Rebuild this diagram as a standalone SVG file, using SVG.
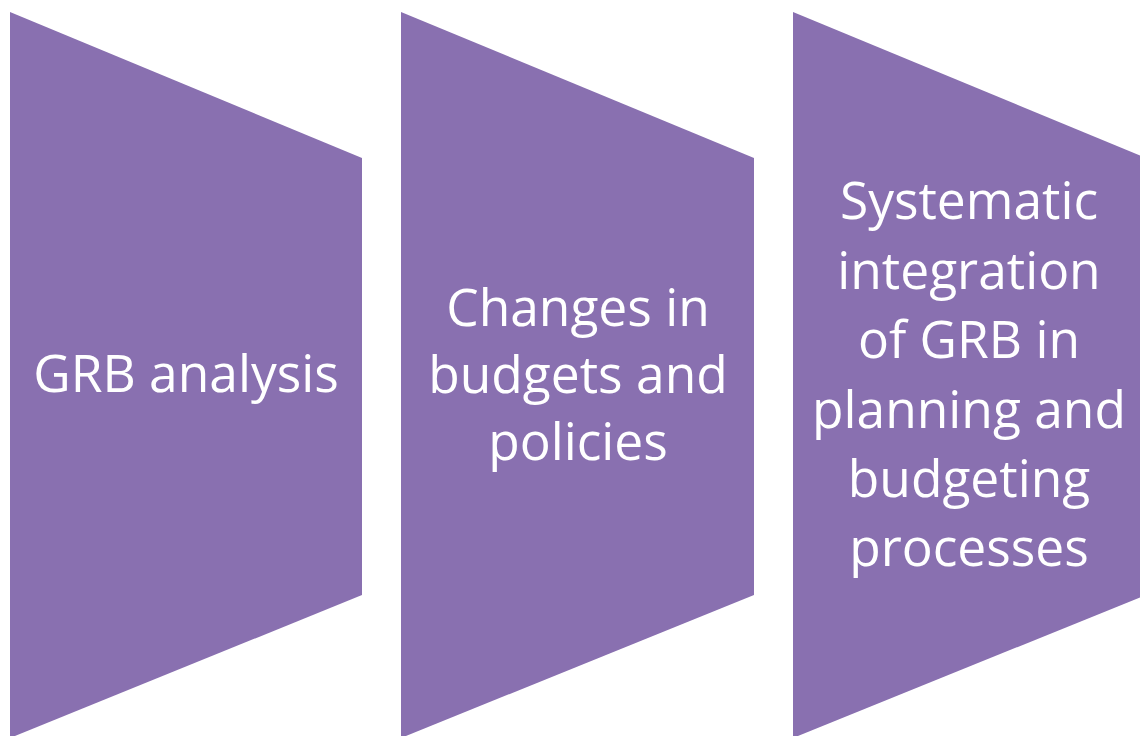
<svg xmlns="http://www.w3.org/2000/svg" width="1140" height="736" viewBox="0 0 1140 736">
<style>
.shape{fill:#8970B0;}
.lbl{fill:#FFFFFF;font-family:"Open Sans","Noto Sans",sans-serif;font-size:51.5px;text-anchor:middle;}
</style>
<rect width="1140" height="736" fill="#FFFFFF"/>
<g id="node-1">
<polygon class="shape" points="10,12 362,158 362,595 10,738"/>
<text class="lbl" x="186" y="392">GRB analysis</text>
</g>
<g id="node-2">
<polygon class="shape" points="401,12 754,158 754,595 401,738"/>
<text class="lbl" x="578" y="326">Changes in</text>
<text class="lbl" x="578" y="393">budgets and</text>
<text class="lbl" x="578" y="460">policies</text>
</g>
<g id="node-3">
<polygon class="shape" points="793,12 1146,158 1146,595 793,738"/>
<text class="lbl" x="969" y="219">Systematic</text>
<text class="lbl" x="969" y="289">integration</text>
<text class="lbl" x="969" y="358">of GRB in</text>
<text class="lbl" x="969" y="428">planning and</text>
<text class="lbl" x="969" y="497">budgeting</text>
<text class="lbl" x="969" y="566">processes</text>
</g>
<g id="connectors"></g>
</svg>
